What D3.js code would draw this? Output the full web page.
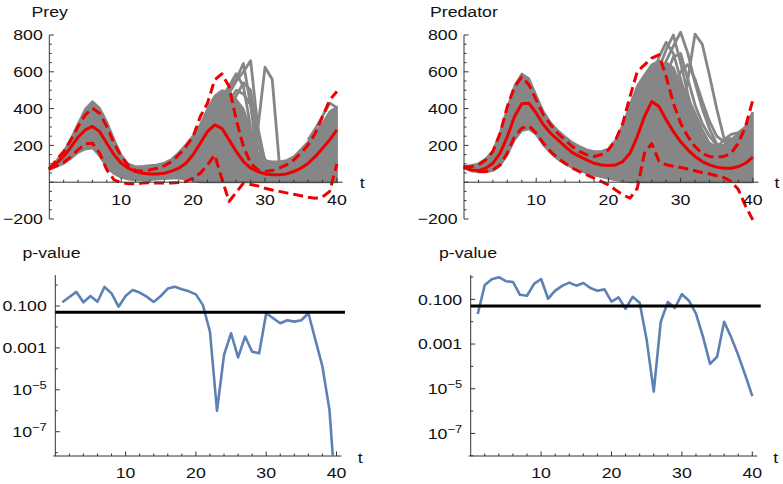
<!DOCTYPE html>
<html><head><meta charset="utf-8">
<script src="https://cdn.jsdelivr.net/npm/d3@7"></script>
<style>body{margin:0;background:#fff} text{font-family:"Liberation Sans",Arial,sans-serif;fill:#111}</style>
</head><body><svg id="c" width="783" height="484"></svg>
<script>
// ---------- DATA ----------
const tSteps = [0,1,2,3,4,5,6,7,8,9,10,11,12,13,14,15,16,17,18,19,20,21,22,23,24,25,26,27,28,29,30,31,32,33,34,35,36,37,38,39,40];
const pSteps = [1,2,3,4,5,6,7,8,9,10,11,12,13,14,15,16,17,18,19,20,21,22,23,24,25,26,27,28,29,30,31,32,33,34,35,36,37,38,39,40];

// Prey (top left)
const preyMean  = [72,103,140,190,245,284,303,275,212,149,103,76,58,49,45,45,49,60,76,103,149,212,275,311,293,230,167,112,76,58,45,40,40,45,58,76,103,140,185,230,284];
const preyUpper = [72,121,167,230,303,366,402,375,303,212,140,89,63,60,67,76,89,112,149,194,248,357,429,556,589,520,339,194,103,67,58,63,76,94,121,158,203,266,357,447,493];
const preyLower = [72,89,107,140,176,208,212,158,67,13,-2,-9,-9,-5,-2,-5,-5,-5,-2,4,22,49,94,148,20,-105,-55,-5,-12,-20,-33,-42,-50,-58,-66,-74,-82,-87,-80,-50,100];
const preyBandHi = [78,118,168,238,320,400,440,405,330,235,150,100,86,88,92,96,106,126,162,205,255,315,400,470,500,490,450,400,290,160,118,112,112,120,140,180,222,272,322,385,410];
const preyBandLo = [68,84,100,128,160,178,185,140,80,45,25,15,10,10,12,15,18,20,20,15,8,0,0,0,0,0,0,0,0,0,0,0,0,0,0,0,0,0,0,0,0];
const preyOutA = [[23,400],[24,450],[25,500],[26,560],[27,645],[28,420],[29,120],[30,90],[31,90]];
const preyOutB = [[24,420],[25,480],[26,550],[27,600],[28,660],[29,300],[30,110],[31,100]];
const preyOutC = [[25,470],[26,420],[27,300],[28,130],[29,290],[30,625],[31,560],[32,100],[33,95],[34,110]];
const preyOutD = [[24,460],[25,520],[26,590],[27,520],[28,300],[29,110],[30,90]];
const preyOutE = [[36,230],[37,290],[38,360],[39,430],[40,405]];
const preyOutF = [[20,60],[21,40],[22,25],[23,15],[24,30],[25,60],[26,80],[27,70]];
const preyOutG = [[24,380],[25,440],[26,500],[27,480],[28,420],[29,200],[30,100]];
const preyOutH = [[25,400],[26,470],[27,540],[28,500],[29,250],[30,120],[31,100]];

// Predator (top right)
const predMean  = [82,67,63,76,103,158,248,357,426,429,375,312,266,230,194,161,140,121,103,94,91,94,112,158,248,357,438,411,339,275,221,176,140,112,94,82,76,76,85,103,136];
const predUpper = [82,85,94,121,167,266,411,520,571,529,447,366,312,266,230,194,167,149,140,149,176,230,321,466,601,638,674,692,574,429,321,248,194,154,140,136,140,158,212,303,447];
const predLower = [82,67,58,58,67,94,158,248,293,306,266,212,167,130,103,76,58,40,22,4,-14,-42,-69,-87,-33,160,210,115,95,87,80,72,62,52,45,35,25,5,-40,-130,-205];
const predBandHi = [88,92,102,128,172,272,405,525,590,565,475,385,325,282,248,218,196,178,168,168,182,232,312,425,525,585,640,660,640,600,540,460,380,290,215,190,205,235,265,305,375];
const predBandLo = [75,60,54,54,62,88,148,228,278,288,258,200,158,124,98,78,62,48,38,28,18,10,5,0,0,0,0,0,0,0,0,0,0,0,0,0,0,0,0,0,0];
const predOutA = [[25,420],[26,500],[27,620],[28,720],[29,800],[30,650],[31,480],[32,330],[33,230],[34,170]];
const predOutB = [[26,480],[27,560],[28,660],[29,740],[30,815],[31,700],[32,540],[33,400],[34,290],[35,210],[36,180]];
const predOutC = [[28,300],[29,260],[30,290],[31,560],[32,805],[33,750],[34,580],[35,400],[36,240],[37,215],[38,240],[39,260],[40,290]];
const predOutD = [[26,560],[27,680],[28,760],[29,700],[30,560],[31,430],[32,320],[33,240],[34,200]];
const predOutE = [[35,190],[36,230],[37,260],[38,270],[39,300],[40,380]];
const predOutF = [[26,520],[27,600],[28,650],[29,620],[30,520],[31,420],[32,330],[33,260],[34,210],[35,190]];
const predOutG = [[27,500],[28,580],[29,680],[30,700],[31,560],[32,420],[33,320],[34,250],[35,200],[36,200]];
const predOutH = [[28,420],[29,520],[30,600],[31,640],[32,560],[33,440],[34,330],[35,250],[36,220],[37,240]];

// p-values (bottom)
const preyP = [0.15,0.27,0.47,0.15,0.30,0.16,0.81,0.40,0.093,0.30,0.58,0.44,0.28,0.155,0.30,0.68,0.83,0.63,0.50,0.36,0.11,5.9e-3,1.0e-6,4.6e-4,5.0e-3,3.5e-4,3.5e-3,6.6e-4,5.5e-4,0.045,0.026,0.015,0.021,0.018,0.021,0.045,2.4e-3,1.3e-4,1.1e-6,2.5e-11];
const predP = [0.022,0.44,0.79,0.98,0.65,0.60,0.16,0.145,0.49,0.81,0.107,0.245,0.40,0.56,0.41,0.54,0.32,0.245,0.28,0.079,0.123,0.038,0.13,0.071,1.5e-3,7.4e-6,0.010,0.076,0.041,0.17,0.087,0.023,2.1e-3,1.3e-4,2.7e-4,0.010,2.0e-3,3.2e-4,4.1e-5,4.7e-6];
const alphaLevel = 0.05;

const yTicksTop = [800,600,400,200,-200];
const xTicks = [10,20,30,40];
const pTickExp = [-1,-3,-5,-7];

// ---------- DRAW ----------
const svg = d3.select("#c");
const FS = 15, SX = 1.18;
const GRAY = "#868686", RED = "#ee0000", BLUE = "#5e81b5", AX = "#333";

function txt(g, x, y, s, anchor, dy) {
  return g.append("text").attr("transform", `translate(${x},${y}) scale(${SX},1)`)
    .attr("text-anchor", anchor).attr("dy", dy || 0).attr("font-size", FS).text(s);
}

function topPanel(title, titleX, xr, mean, upper, lower, bandHi, bandLo, outliers) {
  const x = d3.scaleLinear().domain([0, 40]).range(xr);
  const y = d3.scaleLinear().domain([-200, 800]).range([219, 35]);
  const g = svg.append("g");
  g.append("path").datum(tSteps)
    .attr("d", d3.area().x(t => x(t)).y0((t, i) => y(bandLo[i])).y1((t, i) => y(bandHi[i])))
    .attr("fill", GRAY).attr("stroke", GRAY).attr("stroke-width", 2).attr("stroke-linejoin", "round");
  const ln = d3.line().x(d => x(d[0])).y(d => y(d[1]));
  outliers.forEach(o => g.append("path").datum(o).attr("d", ln)
    .attr("fill", "none").attr("stroke", GRAY).attr("stroke-width", 2.8).attr("stroke-linejoin", "round"));
  const ls = d3.line().x((v, i) => x(tSteps[i])).y(v => y(v));
  [[upper, "10,5"], [lower, "10,5"], [mean, null]].forEach(([arr, dash]) => {
    const p = g.append("path").datum(arr).attr("d", ls).attr("fill", "none")
      .attr("stroke", RED).attr("stroke-width", 3).attr("stroke-linejoin", "round");
    if (dash) p.attr("stroke-dasharray", dash);
  });
  // axes
  const x0 = x(0);
  g.append("line").attr("x1", x0).attr("x2", x0).attr("y1", y(800)).attr("y2", y(-200)).attr("stroke", AX);
  g.append("line").attr("x1", x0).attr("x2", x(40.8)).attr("y1", y(0)).attr("y2", y(0)).attr("stroke", AX);
  d3.range(-200, 801, 50).forEach(v => {
    const major = v % 200 === 0;
    g.append("line").attr("x1", x0).attr("x2", x0 + (major ? 4.5 : 2.5)).attr("y1", y(v)).attr("y2", y(v)).attr("stroke", AX);
  });
  d3.range(2, 41, 2).forEach(t => {
    const major = t % 10 === 0;
    g.append("line").attr("x1", x(t)).attr("x2", x(t)).attr("y1", y(0)).attr("y2", y(0) - (major ? 4.5 : 2.5)).attr("stroke", AX);
  });
  yTicksTop.forEach(v => txt(g, x0 - 6.5, y(v), d3.format("")(v), "end", "0.35em"));
  xTicks.forEach(t => txt(g, x(t), y(0) + 23, String(t), "middle"));
  txt(g, xr[0] + 313, 188, "t", "middle");
  txt(g, titleX, 17, title, "start");
}

topPanel("Prey", 31.5, [49.3, 336.9], preyMean, preyUpper, preyLower, preyBandHi, preyBandLo,
  [preyOutF, preyOutG, preyOutH, preyOutA, preyOutB, preyOutC, preyOutD, preyOutE]);
topPanel("Predator", 430, [464, 752.8], predMean, predUpper, predLower, predBandHi, predBandLo,
  [predOutF, predOutG, predOutH, predOutA, predOutB, predOutC, predOutD, predOutE]);

function pPanel(id, titleX, xr, yDom, pvals) {
  const x = d3.scaleLinear().domain([0, 40]).range(xr);
  const y = d3.scaleLog().domain(yDom).range([456, 275]);
  const g = svg.append("g");
  svg.append("clipPath").attr("id", id).append("rect")
    .attr("x", xr[0]).attr("y", 262).attr("width", xr[1] - xr[0] + 12).attr("height", 456 - 262);
  const x0 = x(0);
  g.append("line").attr("x1", x0).attr("x2", x0).attr("y1", 275).attr("y2", 456).attr("stroke", AX);
  g.append("line").attr("x1", x0 - 2).attr("x2", x(40.7)).attr("y1", 456).attr("y2", 456).attr("stroke", AX);
  d3.range(0, -9, -1).forEach(e => {
    const v = Math.pow(10, e);
    if (v < yDom[0] || v > yDom[1]) return;
    const major = pTickExp.includes(e);
    g.append("line").attr("x1", x0).attr("x2", x0 + (major ? 4.5 : 2.5)).attr("y1", y(v)).attr("y2", y(v)).attr("stroke", AX);
  });
  d3.range(2, 41, 2).forEach(t => {
    const major = t % 10 === 0;
    g.append("line").attr("x1", x(t)).attr("x2", x(t)).attr("y1", 456).attr("y2", 456 - (major ? 4.5 : 2.5)).attr("stroke", AX);
  });
  pTickExp.forEach(e => {
    const v = Math.pow(10, e);
    if (e >= -3) {
      txt(g, x0 - 8.5, y(v), d3.format(".3f")(v), "end", "0.35em");
    } else {
      const tx = g.append("text").attr("transform", `translate(${x0 - 8.5},${y(v)}) scale(${SX},1)`)
        .attr("text-anchor", "end").attr("dy", "0.35em").attr("font-size", FS);
      tx.append("tspan").text("10");
      tx.append("tspan").attr("font-size", 11).attr("dy", "-0.55em").text("−" + (-e));
    }
  });
  xTicks.forEach(t => txt(g, x(t), 478, String(t), "middle"));
  txt(g, xr[0] + 305, 462.5, "t", "middle");
  txt(g, titleX, 258, "p-value", "start");
  const gc = g.append("g").attr("clip-path", `url(#${id})`);
  gc.append("path").datum(pvals)
    .attr("d", d3.line().x((v, i) => x(pSteps[i])).y(v => y(v)))
    .attr("fill", "none").attr("stroke", BLUE).attr("stroke-width", 2.6).attr("stroke-linejoin", "round");
  g.append("line").attr("x1", x0).attr("x2", x(41.2)).attr("y1", y(alphaLevel)).attr("y2", y(alphaLevel))
    .attr("stroke", "#000").attr("stroke-width", 3);
}

pPanel("clipL", 22.5, [55.3, 336.5], [Math.pow(10, -8.16), Math.pow(10, 0.48)], preyP);
pPanel("clipR", 439, [470.7, 752.3], [Math.pow(10, -8.01), Math.pow(10, 0.09)], predP);
</script></body></html>
